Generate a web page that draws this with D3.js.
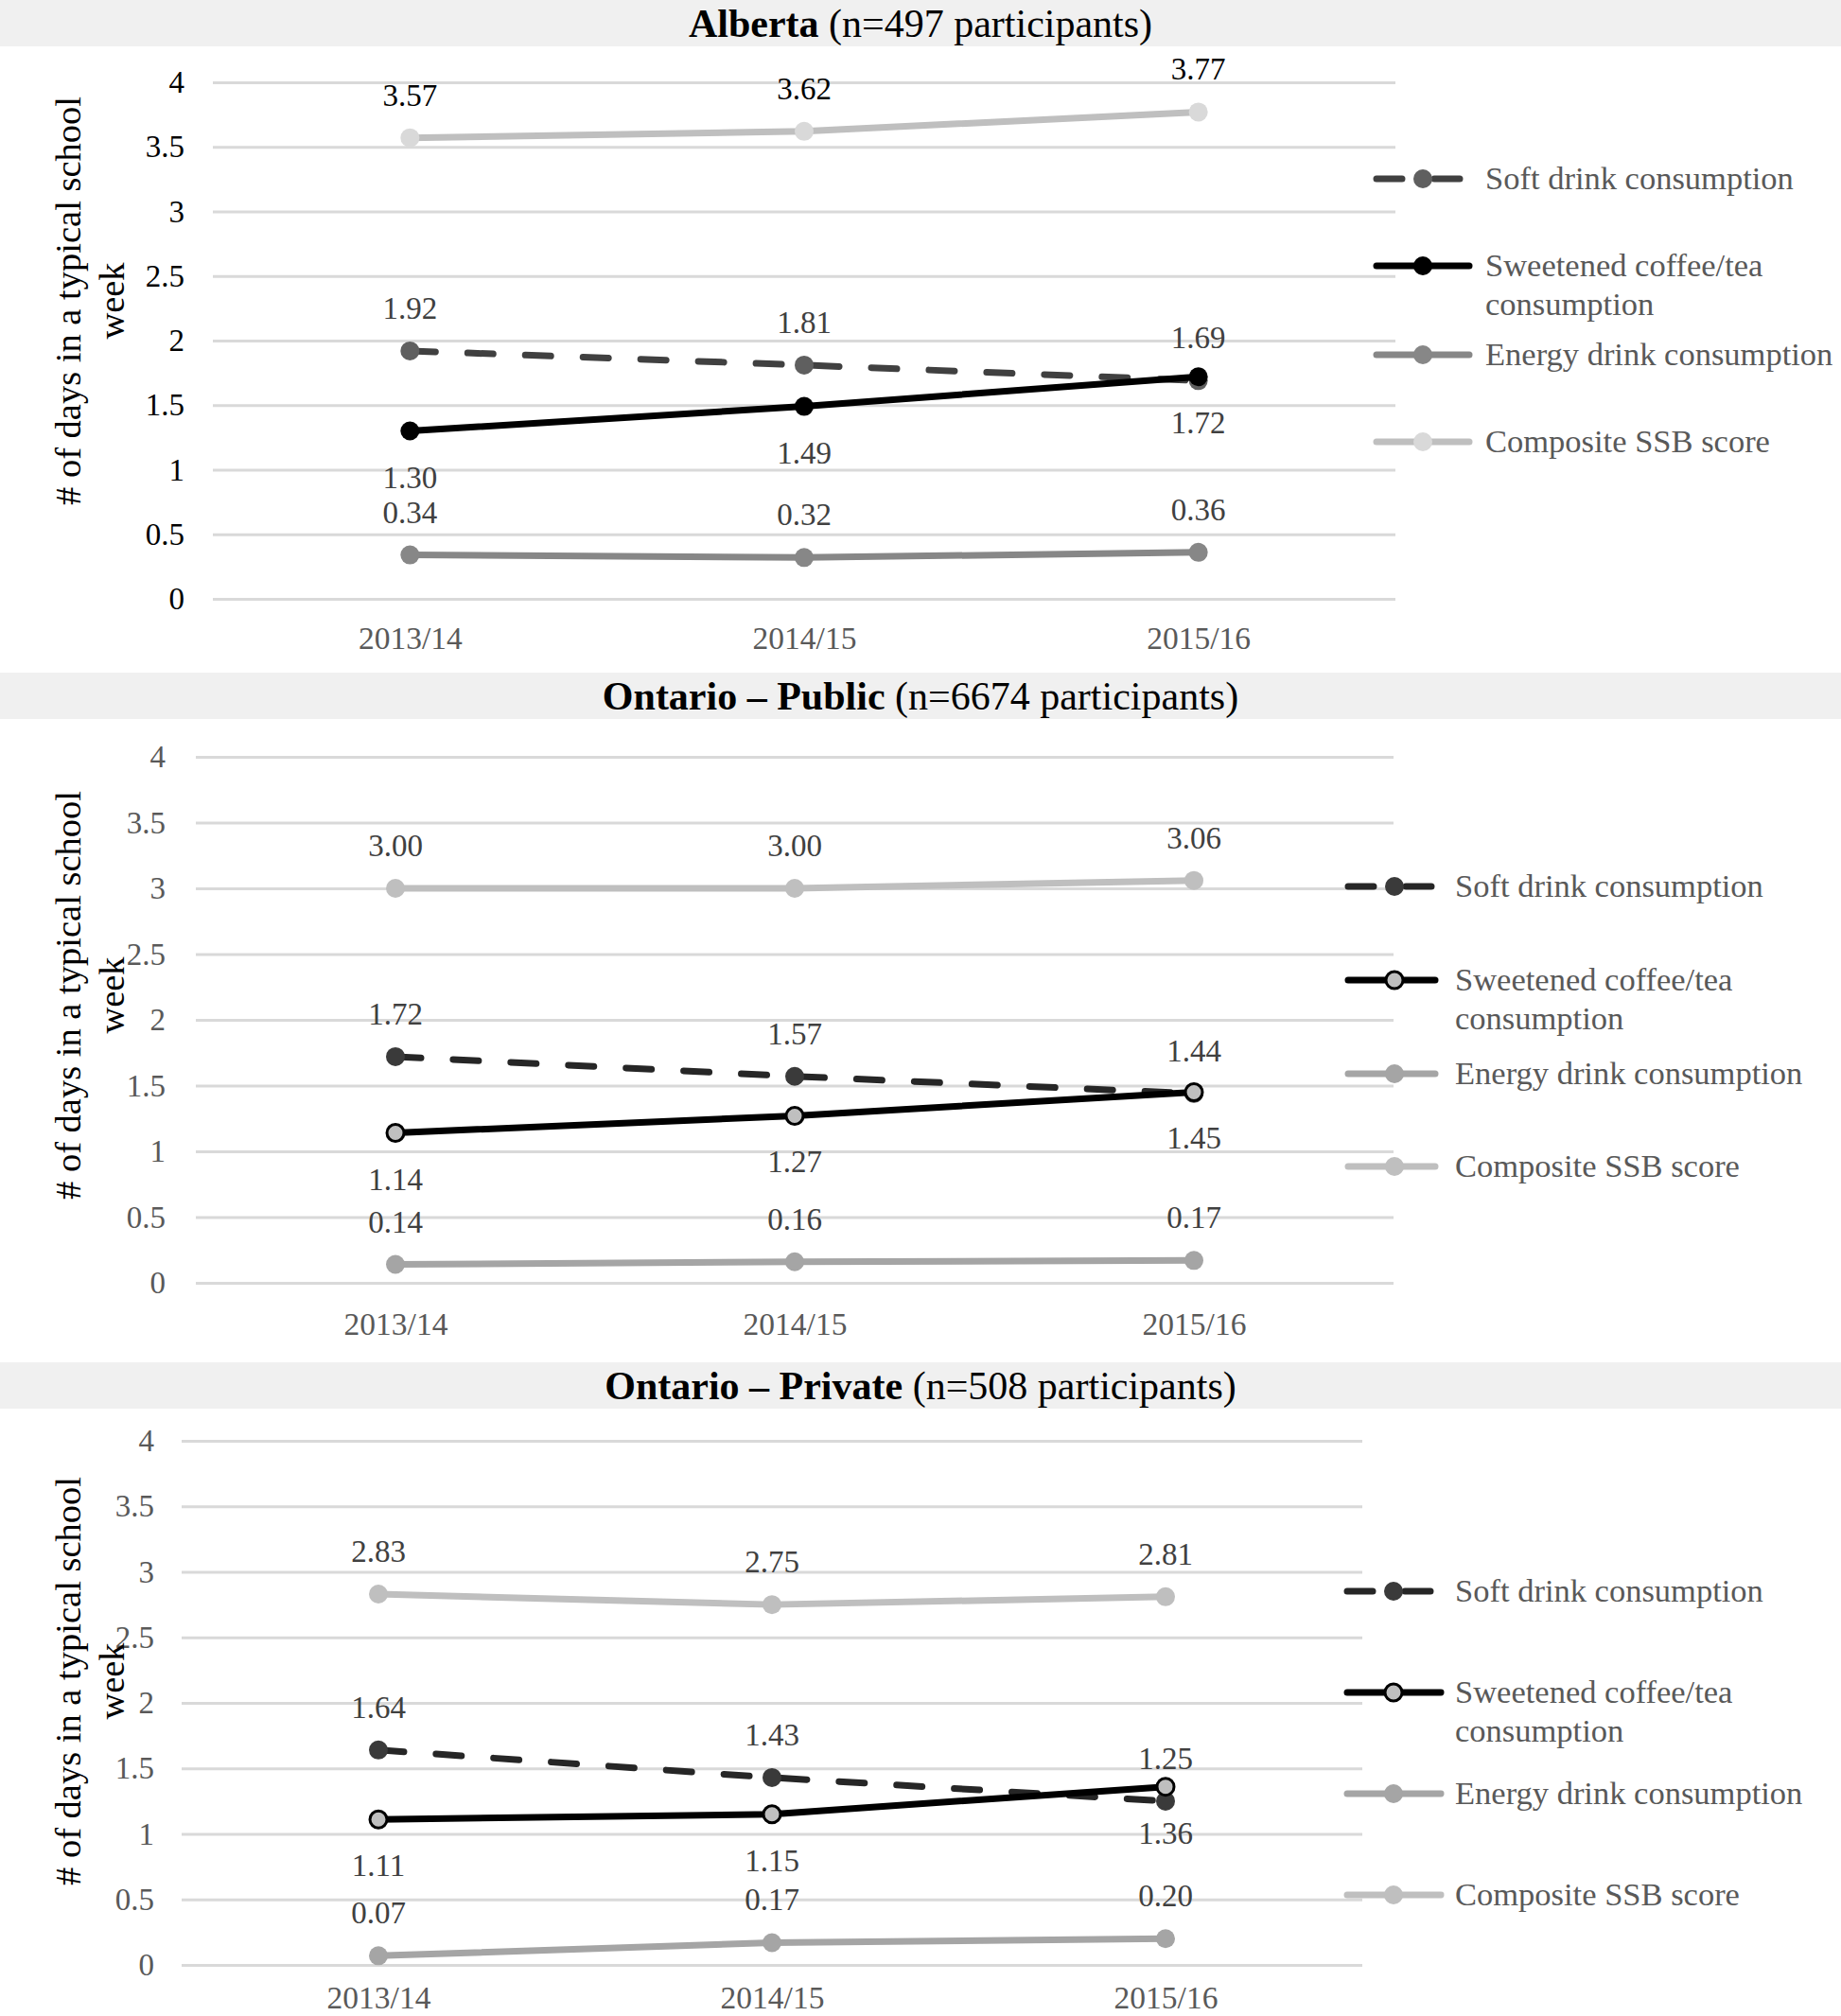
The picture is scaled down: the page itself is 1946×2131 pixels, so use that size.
<!DOCTYPE html>
<html><head><meta charset="utf-8">
<script src="https://cdn.jsdelivr.net/npm/d3@7"></script>
<style>body{margin:0;background:#fff} svg{display:block}</style>
</head><body><svg id="chart" width="1946" height="2131"></svg>
<script>
// ---------- data ----------
const categories = ["2013/14", "2014/15", "2015/16"];
const seriesNames = ["Soft drink consumption", "Sweetened coffee/tea consumption", "Energy drink consumption", "Composite SSB score"];
const legendLines = [["Soft drink consumption"], ["Sweetened coffee/tea", "consumption"], ["Energy drink consumption"], ["Composite SSB score"]];
const yTickValues = [0, 0.5, 1, 1.5, 2, 2.5, 3, 3.5, 4];
const yTickLabels = ["0", "0.5", "1", "1.5", "2", "2.5", "3", "3.5", "4"];
const axisTitleLines = ["# of days in a typical school", "week"];

const panelRegions = ["Alberta", "Ontario \u2013 Public", "Ontario \u2013 Private"];
const panelSamples = [" (n=497 participants)", " (n=6674 participants)", " (n=508 participants)"];

const albertaSoft = [1.92, 1.81, 1.69];
const albertaSweet = [1.30, 1.49, 1.72];
const albertaEnergy = [0.34, 0.32, 0.36];
const albertaComposite = [3.57, 3.62, 3.77];

const publicSoft = [1.72, 1.57, 1.44];
const publicSweet = [1.14, 1.27, 1.45];
const publicEnergy = [0.14, 0.16, 0.17];
const publicComposite = [3.00, 3.00, 3.06];

const privateSoft = [1.64, 1.43, 1.25];
const privateSweet = [1.11, 1.15, 1.36];
const privateEnergy = [0.07, 0.17, 0.20];
const privateComposite = [2.83, 2.75, 2.81];

const panelData = [
  [albertaSoft, albertaSweet, albertaEnergy, albertaComposite],
  [publicSoft, publicSweet, publicEnergy, publicComposite],
  [privateSoft, privateSweet, privateEnergy, privateComposite]
];

// ---------- layout / style ----------
const FONT = "'Liberation Serif', 'Times New Roman', Times, serif";
const W = 1946;
const layouts = [
  {band: 0,    gx0: 225, gx1: 1475, y4: 87,   y0: 633,  tickPad: 30, xPad: 29, titleCy: 318,  tickColor: "#000",
   legX: 1455, legW: 98, legTextX: 1570, legY: [189, 281, 375, 467]},
  {band: 711,  gx0: 207, gx1: 1473, y4: 800,  y0: 1356, tickPad: 32, xPad: 31, titleCy: 1052, tickColor: "#595959",
   legX: 1425, legW: 92, legTextX: 1538, legY: [937, 1036, 1135, 1233]},
  {band: 1440, gx0: 192, gx1: 1440, y4: 1523, y0: 2077, tickPad: 29, xPad: 22, titleCy: 1777, tickColor: "#595959",
   legX: 1424, legW: 99, legTextX: 1538, legY: [1682, 1789, 1896, 2003]}
];
const DASH = "27,34";
const styleAlberta = [
  {stroke: "#404040", dash: DASH, mfill: "#5f5f5f", mstroke: "none", label: "#404040", below: false},
  {stroke: "#000000", dash: null, mfill: "#000000", mstroke: "none", label: "#404040", below: true},
  {stroke: "#878787", dash: null, mfill: "#878787", mstroke: "none", label: "#404040", below: false},
  {stroke: "#bfbfbf", dash: null, mfill: "#d9d9d9", mstroke: "none", label: "#000000", below: false}
];
const styleOntario = [
  {stroke: "#262626", dash: DASH, mfill: "#3a3a3a", mstroke: "none", label: "#404040", below: false},
  {stroke: "#000000", dash: null, mfill: "#bfbfbf", mstroke: "#000", label: "#404040", below: true},
  {stroke: "#a5a5a5", dash: null, mfill: "#a5a5a5", mstroke: "none", label: "#404040", below: false},
  {stroke: "#bfbfbf", dash: null, mfill: "#bfbfbf", mstroke: "none", label: "#404040", below: false}
];
const panelStyles = [styleAlberta, styleOntario, styleOntario];

const svg = d3.select("#chart");
svg.append("rect").attr("width", W).attr("height", 2131).attr("fill", "#fff");

panelData.forEach((series, p) => {
  const L = layouts[p];
  const S = panelStyles[p];
  const g = svg.append("g");

  // title band
  g.append("rect").attr("x", 0).attr("y", L.band).attr("width", W).attr("height", 49).attr("fill", "#f0f0f0");
  const t = g.append("text").attr("x", 973).attr("y", L.band + 38.5)
    .attr("text-anchor", "middle").attr("font-family", FONT).attr("font-size", 42).attr("fill", "#000");
  t.append("tspan").attr("font-weight", "bold").text(panelRegions[p]);
  t.append("tspan").text(panelSamples[p]);

  const x = d3.scalePoint().domain(categories).range([L.gx0, L.gx1]).padding(0.5);
  const y = d3.scaleLinear().domain([0, 4]).range([L.y0, L.y4]);

  // y axis with gridlines
  const yAxis = g.append("g").attr("transform", `translate(${L.gx0},0)`)
    .call(d3.axisLeft(y).tickValues(yTickValues).tickFormat((d, i) => yTickLabels[i])
      .tickSize(-(L.gx1 - L.gx0)).tickPadding(L.tickPad));
  yAxis.select(".domain").remove();
  yAxis.selectAll(".tick line").attr("stroke", "#d9d9d9").attr("stroke-width", 3);
  yAxis.selectAll(".tick text").attr("font-family", FONT).attr("font-size", 33).attr("fill", L.tickColor);

  // x axis
  const xAxis = g.append("g").attr("transform", `translate(0,${L.y0})`)
    .call(d3.axisBottom(x).tickSize(0).tickPadding(L.xPad));
  xAxis.select(".domain").remove();
  xAxis.selectAll(".tick text").attr("font-family", FONT).attr("font-size", 33.5).attr("fill", "#595959");

  // y axis title
  const yt = g.append("text").attr("transform", `translate(85,${L.titleCy}) rotate(-90)`)
    .attr("text-anchor", "middle").attr("font-family", FONT).attr("font-size", 38.5).attr("fill", "#000");
  axisTitleLines.forEach((ln, i) => yt.append("tspan").attr("x", 0).attr("dy", i === 0 ? 0 : 46).text(ln));

  // lines
  const line = d3.line().x((d, i) => x(categories[i])).y(d => y(d));
  series.forEach((vals, s) => {
    const st = S[s];
    g.append("path").datum(vals).attr("d", line).attr("fill", "none")
      .attr("stroke", st.stroke).attr("stroke-width", 7)
      .attr("stroke-linecap", "round").attr("stroke-linejoin", "round")
      .attr("stroke-dasharray", st.dash);
    g.selectAll(null).data(vals).enter().append("circle")
      .attr("cx", (d, i) => x(categories[i])).attr("cy", d => y(d))
      .attr("r", st.mstroke === "none" ? 10 : 9)
      .attr("fill", st.mfill).attr("stroke", st.mstroke).attr("stroke-width", 3);
  });

  // data labels
  series.forEach((vals, s) => {
    const st = S[s];
    g.selectAll(null).data(vals).enter().append("text")
      .attr("x", (d, i) => x(categories[i]))
      .attr("y", d => y(d) + (st.below ? 60 : -34))
      .attr("text-anchor", "middle").attr("font-family", FONT).attr("font-size", 33)
      .attr("fill", st.label).text(d => d.toFixed(2));
  });

  // legend
  seriesNames.forEach((name, s) => {
    const st = S[s];
    const ly = L.legY[s];
    const lg = g.append("g");
    lg.append("path").attr("d", d3.line()([[L.legX, ly], [L.legX + L.legW, ly]]))
      .attr("stroke", st.stroke).attr("stroke-width", 7).attr("stroke-linecap", "round")
      .attr("stroke-dasharray", st.dash).attr("fill", "none");
    lg.append("circle").attr("cx", L.legX + 49).attr("cy", ly)
      .attr("r", st.mstroke === "none" ? 10 : 9)
      .attr("fill", st.mfill).attr("stroke", st.mstroke).attr("stroke-width", 3);
    const tx = lg.append("text").attr("x", L.legTextX).attr("y", ly + 11)
      .attr("font-family", FONT).attr("font-size", 34.5).attr("fill", "#595959");
    legendLines[s].forEach((ln, i) => tx.append("tspan").attr("x", L.legTextX).attr("dy", i === 0 ? 0 : 41).text(ln));
  });
});
</script>
</body></html>
